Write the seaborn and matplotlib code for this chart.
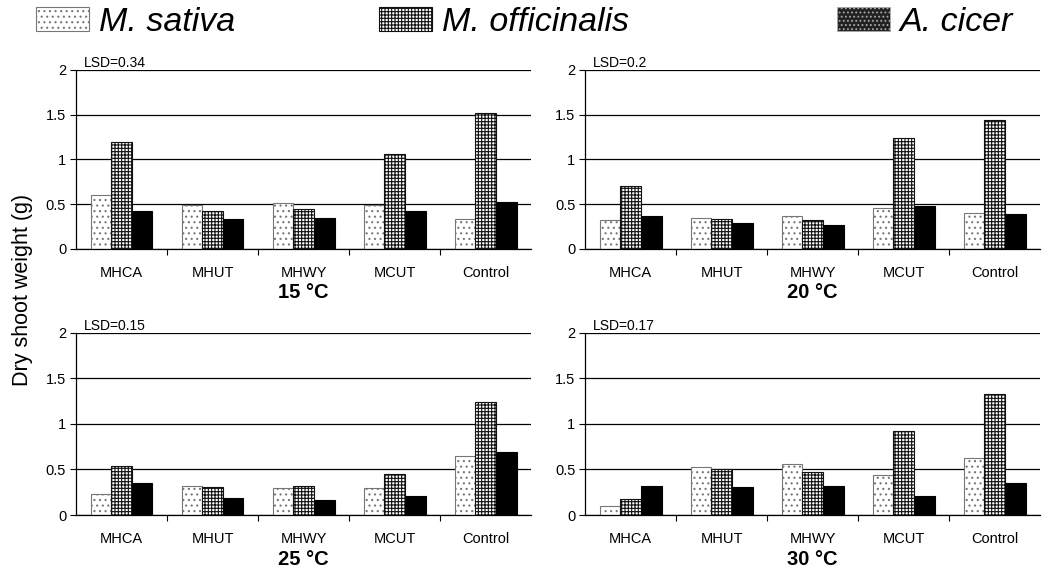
import pandas as pd
import seaborn as sns
import matplotlib.pyplot as plt
from matplotlib.patches import Patch

# Data (dry shoot weight, g)
treatments = ["MHCA", "MHUT", "MHWY", "MCUT", "Control"]
species = ["M. sativa", "M. officinalis", "A. cicer"]
temps = ["15 °C", "20 °C", "25 °C", "30 °C"]
lsd = ["LSD=0.34", "LSD=0.2", "LSD=0.15", "LSD=0.17"]

sativa_15 = [0.60, 0.49, 0.51, 0.49, 0.34]
offic_15 = [1.19, 0.43, 0.45, 1.06, 1.52]
cicer_15 = [0.43, 0.33, 0.35, 0.43, 0.53]

sativa_20 = [0.32, 0.35, 0.37, 0.46, 0.40]
offic_20 = [0.70, 0.33, 0.32, 1.24, 1.44]
cicer_20 = [0.37, 0.29, 0.27, 0.48, 0.39]

sativa_25 = [0.23, 0.32, 0.30, 0.30, 0.65]
offic_25 = [0.54, 0.31, 0.32, 0.45, 1.24]
cicer_25 = [0.35, 0.19, 0.17, 0.21, 0.69]

sativa_30 = [0.10, 0.53, 0.56, 0.44, 0.63]
offic_30 = [0.18, 0.50, 0.47, 0.92, 1.33]
cicer_30 = [0.32, 0.31, 0.32, 0.21, 0.35]

panels = [
    (sativa_15, offic_15, cicer_15),
    (sativa_20, offic_20, cicer_20),
    (sativa_25, offic_25, cicer_25),
    (sativa_30, offic_30, cicer_30),
]

rows = []
for temp, vals in zip(temps, panels):
    for sp, series in zip(species, vals):
        for tr, v in zip(treatments, series):
            rows.append({"temp": temp, "species": sp, "treatment": tr, "weight": v})
df = pd.DataFrame(rows)

sns.set_style("white")
plt.rcParams["font.family"] = ["Liberation Sans", "DejaVu Sans"]
plt.rcParams["hatch.linewidth"] = 0.8
for key in ["text.color", "axes.labelcolor", "xtick.color", "ytick.color"]:
    plt.rcParams[key] = "black"

# bar styles: facecolor, edgecolor, hatch
styles = [
    ("white", "#777777", "..."),
    ("white", "#111111", "+++++"),
    ("black", "black", ""),
]

fig = plt.figure(figsize=(10.61, 5.69), dpi=100)
positions = [
    [0.0716, 0.5624, 0.429, 0.3146],
    [0.5514, 0.5624, 0.429, 0.3146],
    [0.0716, 0.0949, 0.429, 0.3199],
    [0.5514, 0.0949, 0.429, 0.3199],
]

for i, temp in enumerate(temps):
    ax = fig.add_axes(positions[i])
    sub = df[df["temp"] == temp]
    sns.barplot(data=sub, x="treatment", y="weight", hue="species",
                order=treatments, hue_order=species, width=0.68,
                ax=ax, legend=False, errorbar=None)
    for cont, (fc, ec, h) in zip(ax.containers, styles):
        for bar in cont:
            bar.set_facecolor(fc)
            bar.set_edgecolor(ec)
            bar.set_hatch(h)
            bar.set_linewidth(0.8)
    ax.set_ylim(0, 2)
    ax.set_xlim(-0.5, 4.5)
    ax.set_yticks([0, 0.5, 1, 1.5, 2])
    ax.set_yticklabels(["0", "0.5", "1", "1.5", "2"])
    ax.set_axisbelow(True)
    ax.yaxis.grid(True, color="black", linewidth=0.9)
    ax.set_xticks([0.5, 1.5, 2.5, 3.5], minor=True)
    ax.tick_params(axis="x", which="major", length=0, pad=12.5, labelsize=10.5)
    ax.tick_params(axis="x", which="minor", length=4, width=0.8, direction="out", bottom=True)
    ax.tick_params(axis="y", length=4, width=0.8, direction="out", left=True, labelsize=10.5, pad=3)
    for s in ["top", "right"]:
        ax.spines[s].set_visible(False)
    for s in ["left", "bottom"]:
        ax.spines[s].set_color("black")
        ax.spines[s].set_linewidth(0.9)
    ax.set_xlabel("")
    ax.set_ylabel("")
    ax.text(0.018, 1.0, lsd[i], transform=ax.transAxes, ha="left", va="bottom", fontsize=10)
    ax.text(0.5, -0.245, temp, transform=ax.transAxes, ha="center", va="center",
            fontsize=14.5, fontweight="bold")

fig.text(0.021, 0.49, "Dry shoot weight (g)", rotation=90, ha="center", va="center", fontsize=15.5)

# legend across the top
leg_x = [0.034, 0.357, 0.789]
for sp, (fc, ec, h), x in zip(species, styles, leg_x):
    if sp == "A. cicer":
        handle = Patch(facecolor="#222222", edgecolor="#aaaaaa", hatch="....", linewidth=0.6)
    else:
        handle = Patch(facecolor=fc, edgecolor=ec, hatch=h, linewidth=0.8)
    leg = fig.legend([handle], [sp], loc="center left", bbox_to_anchor=(x, 0.961),
                     frameon=False, handlelength=1.55, handleheight=0.7,
                     handletextpad=0.3, borderaxespad=0, borderpad=0,
                     prop={"size": 24.5, "style": "italic"})

fig.savefig("out.png", dpi=100)
